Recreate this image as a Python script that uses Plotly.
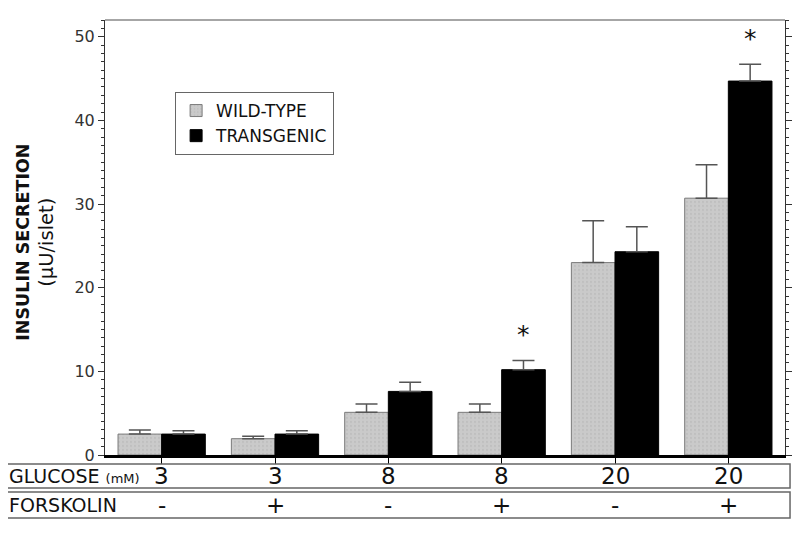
import plotly.graph_objects as go

categories = [0, 1, 2, 3, 4, 5]
glucose = ["3", "3", "8", "8", "20", "20"]
forskolin = ["-", "+", "-", "+", "-", "+"]
wild_type = [2.5, 1.95, 5.1, 5.1, 23.0, 30.7]
wild_type_err = [0.5, 0.3, 1.0, 1.0, 5.0, 4.0]
transgenic = [2.5, 2.5, 7.6, 10.2, 24.3, 44.7]
transgenic_err = [0.4, 0.4, 1.1, 1.1, 3.0, 2.0]
significant = [False, False, False, True, False, True]
y_ticks = [0, 10, 20, 30, 40, 50]

FONT = "DejaVu Sans"
BARGAP = 0.23

fig = go.Figure()
fig.add_trace(go.Bar(
    x=categories, y=wild_type, name="WILD-TYPE",
    marker=dict(color="#c9c9c9", line=dict(color="#7a7a7a", width=1),
                pattern=dict(shape=".", fgcolor="#b4b4b4", bgcolor="#cacaca",
                             size=4, solidity=0.25)),
    error_y=dict(type="data", array=wild_type_err, arrayminus=[0]*6,
                 symmetric=False, color="#555555", thickness=1.5, width=11),
))
fig.add_trace(go.Bar(
    x=categories, y=transgenic, name="TRANSGENIC",
    marker=dict(color="#000000", line=dict(color="#000000", width=1)),
    error_y=dict(type="data", array=transgenic_err, arrayminus=[0]*6,
                 symmetric=False, color="#555555", thickness=1.5, width=11),
))

# significance stars over transgenic bars
offset = (1 - BARGAP) / 4
for c, v, e, s in zip(categories, transgenic, transgenic_err, significant):
    if s:
        fig.add_annotation(x=c + offset, y=v + e, yshift=26, text="*",
                           showarrow=False, font=dict(family=FONT, size=25, color="#111"))

# Table rows below plot
rows = [(-0.0207, -0.0759), (-0.0851, -0.1448)]
for y0, y1 in rows:
    fig.add_shape(type="rect", xref="paper", yref="paper",
                  x0=-0.1473, x1=1.0074, y0=y1, y1=y0,
                  line=dict(color="#666666", width=1.5), fillcolor="white")

fig.add_annotation(xref="paper", yref="paper", x=-0.1444, y=-0.0483,
                   xanchor="left", yanchor="middle", showarrow=False,
                   text="GLUCOSE <span style='font-size:13px'>(mM)</span>",
                   font=dict(family=FONT, size=19, color="#111"))
fig.add_annotation(xref="paper", yref="paper", x=-0.1444, y=-0.115,
                   xanchor="left", yanchor="middle", showarrow=False,
                   text="FORSKOLIN",
                   font=dict(family=FONT, size=19, color="#111"))
for c, g, f in zip(categories, glucose, forskolin):
    fig.add_annotation(xref="x", yref="paper", x=c, y=-0.0483,
                       yanchor="middle", showarrow=False, text=g,
                       font=dict(family=FONT, size=23, color="#111"))
    fig.add_annotation(xref="x", yref="paper", x=c, y=-0.115,
                       yanchor="middle", showarrow=False, text=f,
                       font=dict(family=FONT, size=23, color="#111"))

# Y axis title (two lines)
fig.add_annotation(xref="paper", yref="paper", x=(23 - 105) / 679, y=0.49,
                   xanchor="center", yanchor="middle",
                   textangle=-90, showarrow=False, text="<b>INSULIN SECRETION</b>",
                   font=dict(family=FONT, size=17.5, color="#111"))
fig.add_annotation(xref="paper", yref="paper", x=(47 - 105) / 679, y=0.49,
                   xanchor="center", yanchor="middle",
                   textangle=-90, showarrow=False, text="(μU/islet)",
                   font=dict(family=FONT, size=19.5, color="#111"))

# top frame line
fig.add_shape(type="line", xref="paper", yref="paper", x0=0, x1=1, y0=1, y1=1,
              line=dict(color="#888888", width=1.5))

# page body has an 8px margin; compensate so the plot lands at the reference position
fig.update_layout(
    width=792, height=526,
    margin=dict(l=97, r=8, t=12, b=79),
    paper_bgcolor="white", plot_bgcolor="white",
    barmode="group", bargap=BARGAP, bargroupgap=0,
    showlegend=True,
    legend=dict(x=(175 - 105) / 679, y=(455 - 92) / 435, xanchor="left", yanchor="top",
                bordercolor="#666666", borderwidth=1, bgcolor="white",
                font=dict(family=FONT, size=17, color="#111"),
                itemwidth=30, tracegroupgap=2),
    xaxis=dict(range=[-0.5, 5.5], tickvals=categories, showticklabels=False,
               ticks="outside", ticklen=6, tickcolor="#000", tickwidth=1,
               showline=True, linecolor="#000", linewidth=3, showgrid=False,
               zeroline=False),
    yaxis=dict(range=[0, 52], tickvals=y_ticks, ticks="outside", ticklen=6,
               tickcolor="#333", showline=True, linecolor="#333", linewidth=1,
               mirror="allticks", showgrid=False, zeroline=False,
               tickfont=dict(family=FONT, size=16, color="#333"),
               minor=dict(dtick=1, ticks="outside", ticklen=3, tickcolor="#333")),
)

fig.write_html("out.html")
